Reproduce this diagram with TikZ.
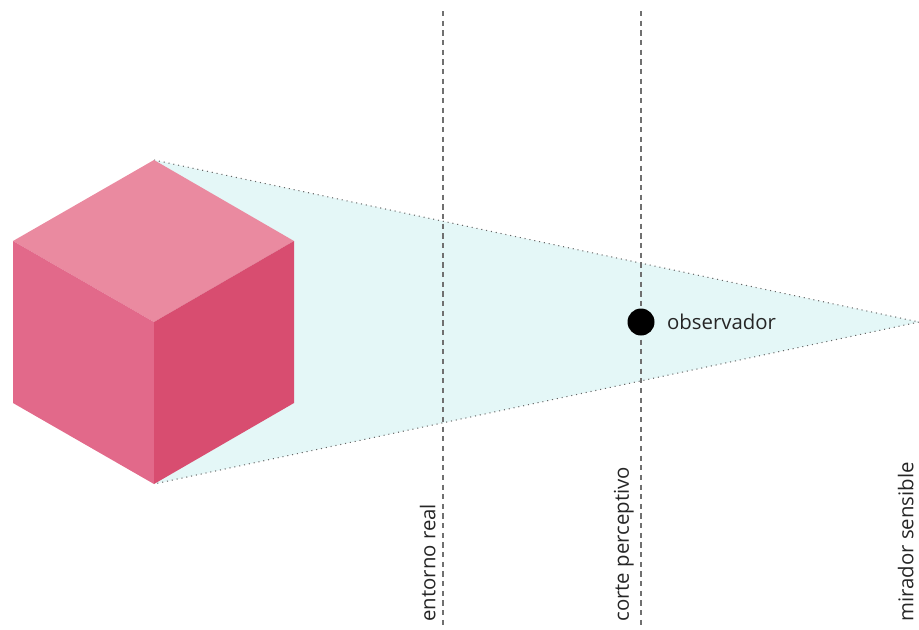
\documentclass[tikz,border=0pt]{standalone}
\usepackage{fontspec}
\setmainfont{Open Sans}
\usepackage{tikz}
\usetikzlibrary{positioning}

\definecolor{cubetop}{HTML}{EA8AA0}
\definecolor{cubeleft}{HTML}{E2698A}
\definecolor{cuberight}{HTML}{D84D70}
\definecolor{viewfill}{HTML}{E4F7F7}
\definecolor{cutline}{HTML}{707070}

\begin{document}
\begin{tikzpicture}[x=0.02cm, y=-0.02cm,
    cut/.style={cutline, dashed, dash pattern=on 3pt off 2.5pt, line width=0.6pt},
    ray/.style={black!60, line width=0.6pt, dash pattern=on 0.6pt off 2.2pt},
    cutlabel/.style={rotate=90, anchor=south west, inner sep=0pt, font=\fontsize{11.6}{13}\selectfont, text=black!85}]
            \useasboundingbox (0,0) rectangle (919,629);

            % Cube corners
            \coordinate (top) at (154,160);
            \coordinate (lt) at (13,241);
            \coordinate (rt) at (294,241);
            \coordinate (mid) at (154,322);
            \coordinate (lb) at (13,403);
            \coordinate (rb) at (294,403);
            \coordinate (bot) at (154,484);
            \coordinate (eye) at (919,322);

            % Field of view
            \fill[viewfill] (top) -- (eye) -- (bot) -- cycle;
            \draw[ray] (top) -- (eye) -- (bot);

            % Cube faces
            \fill[cubetop] (top) -- (rt) -- (mid) -- (lt) -- cycle;
            \fill[cubeleft] (lt) -- (mid) -- (bot) -- (lb) -- cycle;
            \fill[cuberight] (mid) -- (rt) -- (rb) -- (bot) -- cycle;

            % Cut lines
            \coordinate (realtop) at (443,11);
            \coordinate (realbot) at (443,629);
            \coordinate (perctop) at (641,11);
            \coordinate (percbot) at (641,629);
            \draw[cut] (realtop) -- (realbot);
            \draw[cut] (perctop) -- (percbot);

            % Labels
            \node[cutlabel] (real) at (436,622) {entorno real};
            \node[cutlabel] (perc) at (634,622) {corte perceptivo};
            \node[cutlabel] (mirador) at (914,622) {mirador sensible};

            % Observer
            \node[circle, fill=black, minimum size=0.54cm, inner sep=0pt] (obs) at (641,322) {};
            \node[right=0.12cm of obs, font=\fontsize{11.6}{13}\selectfont, text=black!85] (obslabel) {observador};
        \end{tikzpicture}
\end{document}
